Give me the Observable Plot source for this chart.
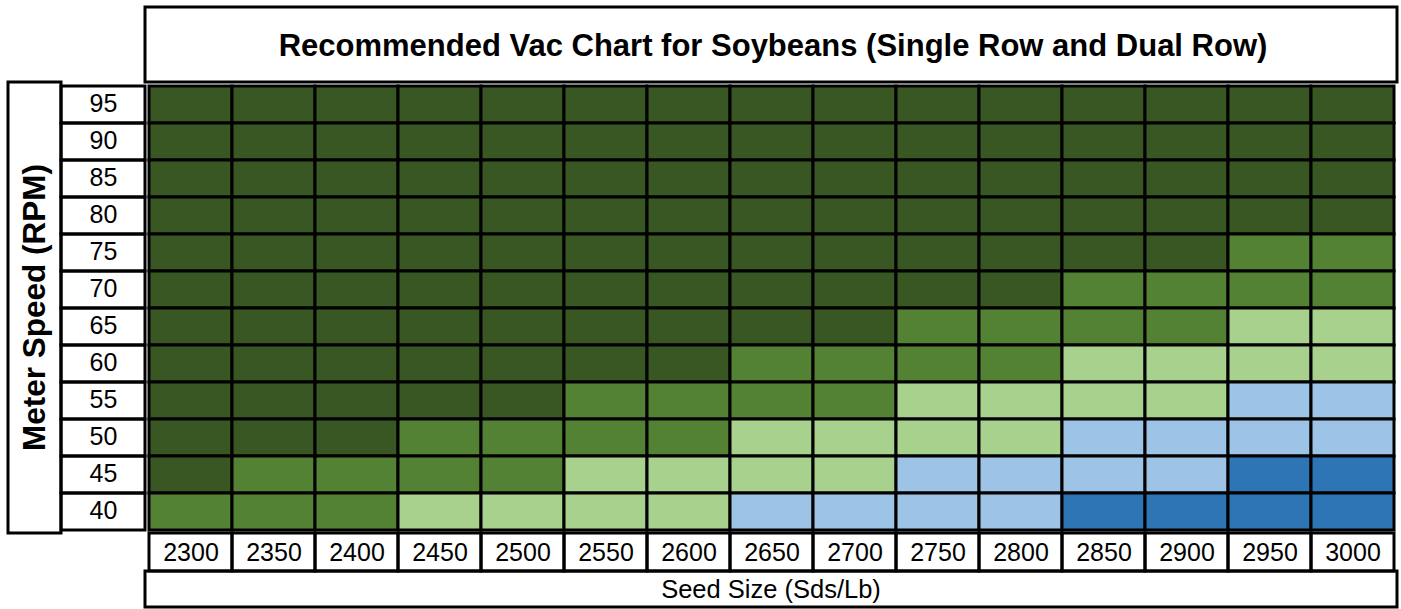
<!DOCTYPE html>
<html>
<head>
<meta charset="utf-8">
<script src="https://cdn.jsdelivr.net/npm/d3@7"></script>
<script src="https://cdn.jsdelivr.net/npm/@observablehq/plot@0.6"></script>
<style>
  html, body { margin: 0; padding: 0; background: #fff; }
  svg { display: block; }
</style>
</head>
<body>
<div id="chart"></div>
<script>
// ---- Data ----
const title = "Recommended Vac Chart for Soybeans (Single Row and Dual Row)";
const yTitle = "Meter Speed (RPM)";
const xTitle = "Seed Size (Sds/Lb)";

const seedSizes = [2300, 2350, 2400, 2450, 2500, 2550, 2600, 2650, 2700, 2750, 2800, 2850, 2900, 2950, 3000];
const meterSpeeds = [95, 90, 85, 80, 75, 70, 65, 60, 55, 50, 45, 40];

// vac level codes: 1 = dark green, 2 = green, 3 = light green, 4 = light blue, 5 = blue
const levelCodes = [1, 2, 3, 4, 5];
const levelColors = ["#385723", "#548235", "#A9D18E", "#9DC3E6", "#2E75B6"];

const rpm95 = [1,1,1,1,1,1,1,1,1,1,1,1,1,1,1];
const rpm90 = [1,1,1,1,1,1,1,1,1,1,1,1,1,1,1];
const rpm85 = [1,1,1,1,1,1,1,1,1,1,1,1,1,1,1];
const rpm80 = [1,1,1,1,1,1,1,1,1,1,1,1,1,1,1];
const rpm75 = [1,1,1,1,1,1,1,1,1,1,1,1,1,2,2];
const rpm70 = [1,1,1,1,1,1,1,1,1,1,1,2,2,2,2];
const rpm65 = [1,1,1,1,1,1,1,1,1,2,2,2,2,3,3];
const rpm60 = [1,1,1,1,1,1,1,2,2,2,2,3,3,3,3];
const rpm55 = [1,1,1,1,1,2,2,2,2,3,3,3,3,4,4];
const rpm50 = [1,1,1,2,2,2,2,3,3,3,3,4,4,4,4];
const rpm45 = [1,2,2,2,2,3,3,3,3,4,4,4,4,5,5];
const rpm40 = [2,2,2,3,3,3,3,4,4,4,4,5,5,5,5];

const rows = [rpm95, rpm90, rpm85, rpm80, rpm75, rpm70, rpm65, rpm60, rpm55, rpm50, rpm45, rpm40];

const cells = meterSpeeds.flatMap((s, i) =>
  seedSizes.map((z, j) => ({speed: s, size: z, level: rows[i][j]}))
);

// ---- Layout ----
const W = 1401, H = 609;
const mLeft = 145, mRight = 4, mTop = 82, mBottom = 76;
const lw = 3;
const font = "Arial, 'Liberation Sans', Helvetica, sans-serif";

const plot = Plot.plot({
  width: W,
  height: H,
  marginLeft: mLeft,
  marginRight: mRight,
  marginTop: mTop,
  marginBottom: mBottom,
  style: {fontFamily: font, color: "black", background: "white", overflow: "visible"},
  x: {type: "band", domain: seedSizes, padding: 0, axis: null},
  y: {type: "band", domain: meterSpeeds, padding: 0, axis: null},
  color: {type: "ordinal", domain: levelCodes, range: levelColors},
  marks: [
    Plot.cell(cells, {x: "size", y: "speed", fill: "level", stroke: "black", strokeWidth: lw}),
    Plot.axisY({anchor: "left", tickSize: 0, tickPadding: 42, textAnchor: "middle", fontSize: 25, fill: "black", label: null, dy: -1}),
    Plot.axisX({anchor: "bottom", tickSize: 0, tickPadding: 19, lineAnchor: "middle", fontSize: 25, fill: "black", label: null, tickFormat: d => String(d)})
  ]
});

// Table borders and titles derived from the scales
const xs = plot.scale("x"), ys = plot.scale("y");
const [gx0, gx1] = [mLeft, W - mRight];
const [gy0, gy1] = [mTop, H - mBottom];
const svg = d3.select(plot);
const g = svg.append("g").attr("fill", "none").attr("stroke", "black").attr("stroke-width", lw);

const labelColX = 61, outerX = 8;
const titleTop = 7, tickRowBottom = 571, xTitleBottom = 607;

// title box
g.append("rect").attr("x", gx0).attr("y", titleTop).attr("width", gx1 - gx0).attr("height", gy0 - titleTop);
// y-title column
g.append("rect").attr("x", outerX).attr("y", gy0).attr("width", labelColX - outerX).attr("height", gy1 - gy0);
// y tick cells
meterSpeeds.forEach(s => {
  g.append("rect").attr("x", labelColX).attr("y", ys.apply(s)).attr("width", gx0 - labelColX).attr("height", ys.bandwidth);
});
// x tick cells
seedSizes.forEach(z => {
  g.append("rect").attr("x", xs.apply(z)).attr("y", gy1).attr("width", xs.bandwidth).attr("height", tickRowBottom - gy1);
});
// x title box
g.append("rect").attr("x", gx0).attr("y", tickRowBottom).attr("width", gx1 - gx0).attr("height", xTitleBottom - tickRowBottom);

const t = svg.append("g").attr("font-family", font).attr("fill", "black").attr("text-anchor", "middle");
t.append("text")
  .attr("x", (gx0 + gx1) / 2 + 2).attr("y", (titleTop + gy0) / 2 + 1)
  .attr("dy", "0.35em").attr("font-size", 31).attr("font-weight", "bold")
  .text(title);
t.append("text")
  .attr("transform", `translate(${(outerX + labelColX) / 2 - 1},${(gy0 + gy1) / 2}) rotate(-90)`)
  .attr("dy", "0.35em").attr("font-size", 31.5).attr("font-weight", "bold")
  .text(yTitle);
t.append("text")
  .attr("x", (gx0 + gx1) / 2).attr("y", (tickRowBottom + xTitleBottom) / 2)
  .attr("dy", "0.35em").attr("font-size", 25.5)
  .text(xTitle);

document.getElementById("chart").append(plot);
</script>
</body>
</html>
